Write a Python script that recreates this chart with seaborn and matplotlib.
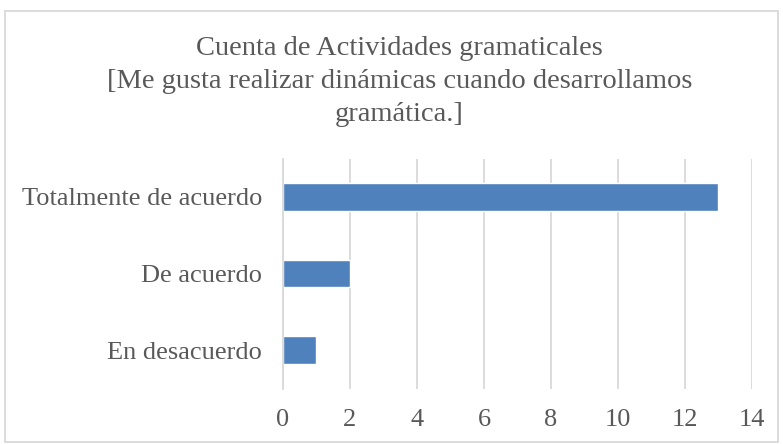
import pandas as pd
import seaborn as sns
import matplotlib.pyplot as plt
from matplotlib.patches import Rectangle

# chart data
categories = ["Totalmente de acuerdo", "De acuerdo", "En desacuerdo"]
counts = [13, 2, 1]
title = ("Cuenta de Actividades gramaticales\n"
         "[Me gusta realizar dinámicas cuando desarrollamos\n"
         "gramática.]")

sns.set_theme(style="white")
plt.rcParams['font.family'] = ['Liberation Serif', 'DejaVu Serif']
TEXT = "#595959"

df = pd.DataFrame({"respuesta": categories, "cuenta": counts})

fig = plt.figure(figsize=(7.83, 4.44), dpi=100)
ax = fig.add_axes([0.3614, 0.125, 0.599, 0.518])
sns.barplot(data=df, x="cuenta", y="respuesta", color="#4f81bd",
            width=0.36, saturation=1, ax=ax)

ax.set_xlim(0, 14)
ax.set_xticks(range(0, 15, 2))
ax.grid(axis='x', color="#d9d9d9", linewidth=1.3)
ax.set_axisbelow(True)
for s in ["top", "right", "bottom"]:
    ax.spines[s].set_visible(False)
ax.spines["left"].set_color("#d9d9d9")
ax.spines["left"].set_linewidth(1.3)
ax.tick_params(axis='both', length=0, labelsize=19, colors=TEXT)
ax.tick_params(axis='x', pad=15)
ax.tick_params(axis='y', pad=15)
ax.set(xlabel="", ylabel="")

fig.text(0.51, 0.918, title, ha='center', va='top', fontsize=20.5,
         color=TEXT, linespacing=1.42)

# outer chart frame
fig.patches.append(Rectangle((0.006, 0.005), 0.988, 0.97, transform=fig.transFigure,
                             fill=False, edgecolor="#d9d9d9", linewidth=1.3))

fig.savefig("out.png", dpi=100)
